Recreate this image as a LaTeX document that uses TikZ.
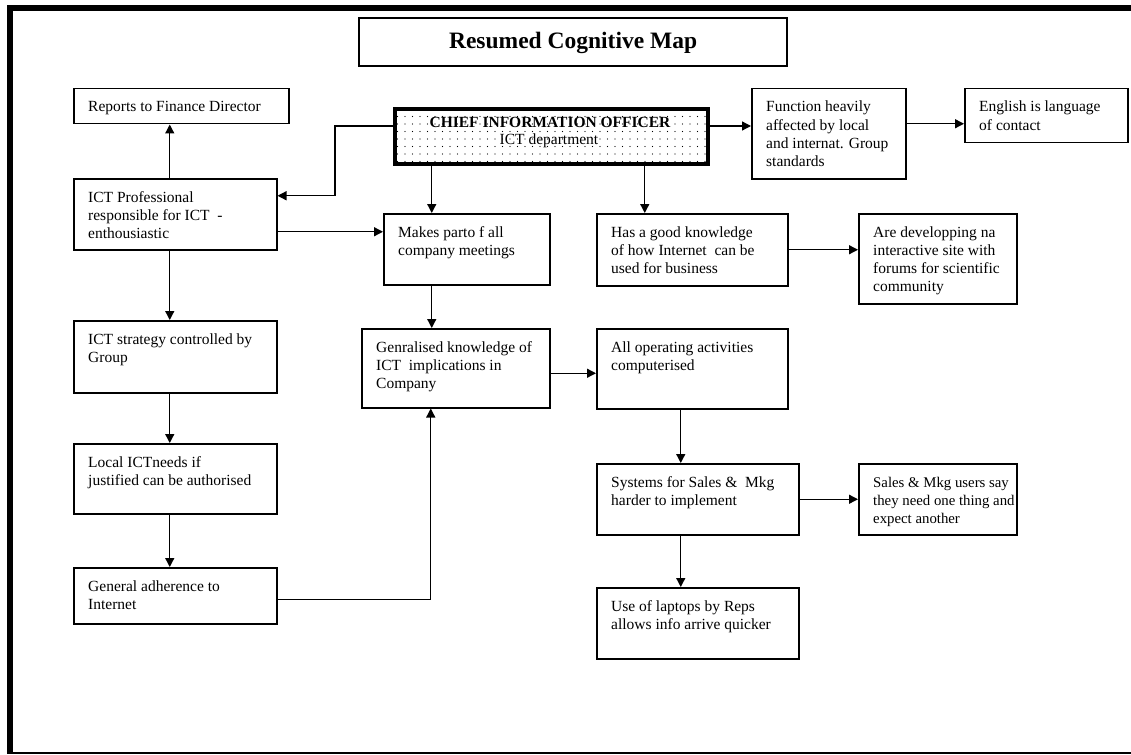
\documentclass[tikz,border=0pt]{standalone}
\usepackage{fontspec}
\setmainfont{Liberation Serif}
\usetikzlibrary{arrows.meta,patterns.meta}

\newcommand\lns[1]{\begin{tabular}[t]{@{}l@{}}#1\end{tabular}}

\tikzset{
  bx/.style={draw, line width=1.5pt, rectangle, inner sep=0pt, anchor=north west},
  txt/.style={inner sep=0pt, anchor=base west, font=\fontsize{15.5}{18.3}\selectfont},
  arr/.style={line width=1.3pt, -{Triangle[length=9pt,width=9pt]}},
}

% box with its text set in the top left corner
\newcommand\mkbox[7][]{%
  \node[bx, minimum width={#5-#3}, minimum height={#6-#4}] (#2) at (#3,#4) {};
  \node[txt,#1] (#2-t) at ([xshift=15pt,yshift=-24pt]#2.north west) {\lns{#7}};
}

\begin{document}
\begin{tikzpicture}[x=1pt,y=-1pt]
\useasboundingbox (0,0) rectangle (1131,754);

% page frame
\fill (7,5) rectangle (1131,11);
\fill (7,5) rectangle (13,754);
\draw[line width=1.5pt] (7,752.8) -- (1131,752.8);

% title
\node[draw, line width=2.2pt, minimum width=428, minimum height=48, anchor=north west,
      inner sep=0pt] (title) at (358,17) {};
\node[font=\fontsize{23.5}{26}\selectfont\bfseries, inner sep=0pt, anchor=base]
      (title-t) at ([yshift=-32pt]title.north) {Resumed Cognitive Map};

% chief information officer
\node[draw, line width=4pt, minimum width=313, minimum height=55, anchor=north west,
      inner sep=0pt, pattern={Dots[distance=7.5pt, radius=0.55pt]}] (cio) at (393,107) {};
\node[font=\fontsize{15.5}{18.3}\selectfont\bfseries, inner sep=0pt, anchor=base]
      (cio-a) at (550,128) {CHIEF INFORMATION OFFICER};
\node[font=\fontsize{15.5}{18.3}\selectfont, inner sep=0pt, anchor=base]
      (cio-b) at (549,145) {ICT department};

% boxes
\mkbox{rep}{73}{88}{288}{123}{Reports to Finance Director}
\mkbox{fun}{751}{88}{905}{178}{Function heavily\\affected by local\\and internat. Group\\standards}
\mkbox{eng}{964}{88}{1127}{142}{English is language\\of contact}
\mkbox{prof}{73}{178}{276}{249}{ICT Professional\\responsible for ICT \ -\\enthousiastic}
\mkbox{make}{383}{213}{549}{284}{Makes parto f all\\company meetings}
\mkbox{know}{596}{213}{787}{285}{Has a good knowledge\\of how Internet \ can be\\used for business}
\mkbox{dev}{858}{213}{1016}{303}{Are developping na\\interactive site with\\forums for scientific\\community}
\mkbox{strat}{73}{320}{276}{392}{ICT strategy controlled by\\Group}
\mkbox{gen}{361}{328}{549}{407}{Genralised knowledge of\\ICT \ implications in\\Company}
\mkbox{allop}{596}{328}{787}{408}{All operating activities\\computerised}
\mkbox{local}{73}{443}{276}{513}{Local ICTneeds if\\justified can be authorised}
\mkbox{sys}{596}{463}{798}{534}{Systems for Sales \& \ Mkg\\harder to implement}
\mkbox[font=\fontsize{14.8}{18.3}\selectfont]{users}{858}{463}{1016}{534}{Sales \& Mkg users say\\they need one thing and\\expect another}
\mkbox{adh}{73}{567}{276}{623}{General adherence to\\Internet}
\mkbox{lap}{596}{587}{798}{658}{Use of laptops by Reps\\allows info arrive quicker}

% connectors
\draw[arr] ([xshift=-5.5pt]prof.north) -- ([xshift=-5.5pt]prof.north |- rep.south);
\draw[arr] ([yshift=10.5pt]cio.west) -- ++(-58,0) |- ([yshift=18.5pt]prof.east);
\draw[arr] ([yshift=-17.5pt]prof.east) -- ([yshift=-17.5pt]prof.east -| make.west);
\draw[arr] ([xshift=-35pt]make.north |- cio.south) -- ([xshift=-35pt]make.north);
\draw[arr] ([xshift=-47.5pt]know.north |- cio.south) -- ([xshift=-47.5pt]know.north);
\draw[arr] ([yshift=10.5pt]cio.east) -- ([yshift=10.5pt]cio.east -| fun.west);
\draw[arr] ([yshift=10pt]fun.east) -- ([yshift=10pt]fun.east -| eng.west);
\draw[arr] (know.east) -- (know.east -| dev.west);
\draw[arr] ([xshift=-5.5pt]prof.south) -- ([xshift=-5.5pt]prof.south |- strat.north);
\draw[arr] ([xshift=-5.5pt]strat.south) -- ([xshift=-5.5pt]strat.south |- local.north);
\draw[arr] ([xshift=-5.5pt]local.south) -- ([xshift=-5.5pt]local.south |- adh.north);
\draw[arr] ([yshift=-4pt]adh.east) -| ([xshift=-25pt]gen.south);
\draw[arr] ([xshift=-35pt]make.south) -- ([xshift=-35pt]make.south |- gen.north);
\draw[arr] ([yshift=-5pt]gen.east) -- ([yshift=-5pt]gen.east -| allop.west);
\draw[arr] ([xshift=-11.5pt]allop.south) -- ([xshift=-11.5pt]allop.south |- sys.north);
\draw[arr] (sys.east) -- (sys.east -| users.west);
\draw[arr] ([xshift=-17pt]sys.south) -- ([xshift=-17pt]sys.south |- lap.north);
\end{tikzpicture}
\end{document}
